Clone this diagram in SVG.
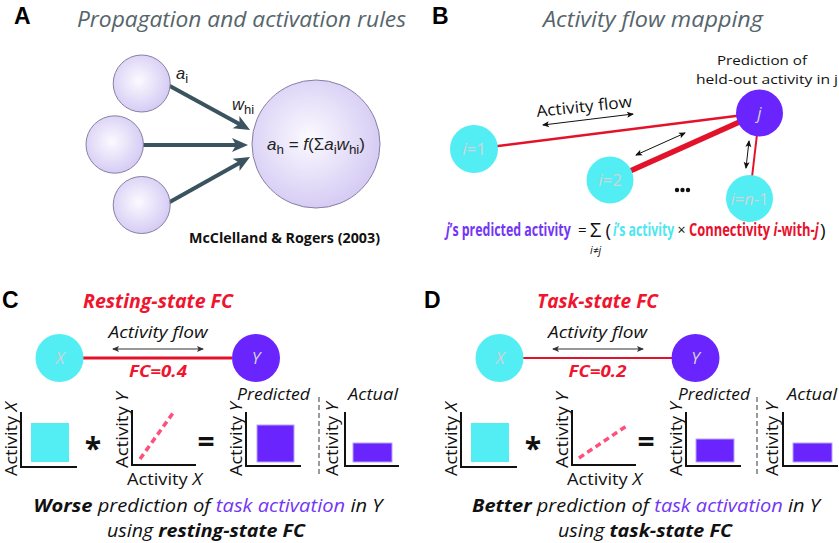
<svg xmlns="http://www.w3.org/2000/svg" width="839" height="543" viewBox="0 0 839 543">
<defs>
<radialGradient id="lav" cx="0.45" cy="0.45" r="0.6">
<stop offset="0" stop-color="#fbfaff"/>
<stop offset="1" stop-color="#d3c8f3"/>
</radialGradient>
<marker id="ah" markerUnits="userSpaceOnUse" markerWidth="20" markerHeight="16" refX="10" refY="7" orient="auto" overflow="visible">
<path d="M0,0 L16,7 L0,14 L4,7 z" fill="#3b535e"/>
</marker>
<marker id="sa" markerUnits="userSpaceOnUse" markerWidth="8" markerHeight="7" refX="6" refY="3" orient="auto-start-reverse" overflow="visible">
<path d="M0,0 L7,3 L0,6 L1.5,3 z" fill="#111"/>
</marker>
<marker id="sg" markerUnits="userSpaceOnUse" markerWidth="8" markerHeight="7" refX="6" refY="3" orient="auto-start-reverse" overflow="visible">
<path d="M0,0 L7,3 L0,6 L1.5,3 z" fill="#333"/>
</marker>
<style>
text{font-family:"Open Sans","Noto Sans",sans-serif}
.lbl{font-family:"Liberation Sans",Arial,sans-serif;font-weight:bold;font-size:23px;fill:#000}
.ttl{font-style:italic;font-size:22.5px;fill:#56656b}
.math{font-family:"Liberation Sans",Arial,sans-serif;font-size:16.5px;fill:#222}
.it{font-style:italic}
.acir{fill:url(#lav);stroke:#877fa3;stroke-width:1}
.aarr{stroke:#3b535e;stroke-width:4;fill:none;marker-end:url(#ah)}
.cyan{fill:#52eef4}
.purp{fill:#6a24fe}
.red{stroke:#e3122b;fill:none}
.dbl{stroke:#111;stroke-width:1;marker-start:url(#sa);marker-end:url(#sa)}
.dblg{stroke:#333;stroke-width:1.2;marker-start:url(#sg);marker-end:url(#sg)}
.nlab{font-size:17px;fill:#cfd4d6;text-anchor:middle}
.axis{stroke:#111;stroke-width:2;fill:none}
.ax{font-size:17px;fill:#111}
.pdash{stroke:#ff4f7d;stroke-width:3.5;stroke-dasharray:6 4;fill:none}
.bcyan{fill:#52eef4}
.bpurp{fill:#6a24fe;stroke:#b7a3ff;stroke-width:1}
.div{stroke:#666;stroke-width:1.3;stroke-dasharray:5 3}
.ctitle{font-weight:bold;font-style:italic;font-size:19.5px;fill:#f0152f;text-anchor:middle}
.flow{font-style:italic;font-size:16.5px;fill:#111;text-anchor:middle}
.fc{font-weight:bold;font-style:italic;font-size:16.5px;fill:#f0152f;text-anchor:middle}
.cap{font-style:italic;font-size:16.5px;fill:#111}
.bot{font-style:italic;font-size:18.5px;fill:#111;text-anchor:middle}
.pt{fill:#7336f5}
.op{font-weight:bold;fill:#111}
.eq{font-size:17px;font-weight:bold}
.sym{fill:#111}
</style>
</defs>

<!-- Panel A -->
<text class="lbl" x="14" y="24">A</text>
<text class="ttl" x="77" y="27" textLength="329" lengthAdjust="spacingAndGlyphs">Propagation and activation rules</text>
<g id="a-connectors">
<line class="aarr" x1="168" y1="85" x2="244.8" y2="127"/>
<line class="aarr" x1="143" y1="145" x2="242" y2="145"/>
<line class="aarr" x1="168" y1="203" x2="244.8" y2="160"/>
</g>
<g id="a-in1"><circle class="acir" cx="141.7" cy="83.5" r="28.5"/></g>
<g id="a-in2"><circle class="acir" cx="114.7" cy="144.5" r="28.7"/></g>
<g id="a-in3"><circle class="acir" cx="141.7" cy="205" r="28.5"/></g>
<g id="a-out"><circle class="acir" cx="316" cy="144" r="64"/>
<text class="math" x="267" y="150" textLength="98" lengthAdjust="spacingAndGlyphs"><tspan class="it">a</tspan><tspan font-size="13" dy="4">h</tspan><tspan dy="-4"> = </tspan><tspan class="it">f</tspan><tspan>(Σ</tspan><tspan class="it">a</tspan><tspan font-size="13" dy="4">i</tspan><tspan class="it" dy="-4">w</tspan><tspan font-size="13" dy="4">hi</tspan><tspan dy="-4">)</tspan></text>
</g>
<text class="math" x="176" y="79"><tspan class="it">a</tspan><tspan font-size="13" dy="4">i</tspan></text>
<text class="math" x="232" y="110"><tspan class="it">w</tspan><tspan font-size="13" dy="4">hi</tspan></text>
<text x="189" y="243" font-size="14.5" font-weight="bold" fill="#111" textLength="191" lengthAdjust="spacingAndGlyphs">McClelland &amp; Rogers (2003)</text>

<!-- Panel B -->
<text class="lbl" x="432" y="24">B</text>
<text class="ttl" x="543" y="27" textLength="220" lengthAdjust="spacingAndGlyphs">Activity flow mapping</text>
<text x="762" y="65" font-size="13.5" fill="#111" text-anchor="middle" textLength="90" lengthAdjust="spacingAndGlyphs">Prediction of</text>
<text x="767" y="84" font-size="13.5" fill="#111" text-anchor="middle" textLength="142" lengthAdjust="spacingAndGlyphs">held-out activity in j</text>
<g id="b-connectors">
<line class="red" x1="474" y1="149" x2="759.5" y2="113" stroke-width="2.6"/>
<line class="red" x1="610" y1="180" x2="759.5" y2="113" stroke-width="5.5"/>
<line class="red" x1="759.5" y1="113" x2="749.5" y2="198.5" stroke-width="2"/>
<line class="dbl" x1="543" y1="125" x2="633" y2="114"/>
<line class="dbl" x1="636" y1="155" x2="685" y2="133"/>
<line class="dbl" x1="749" y1="141" x2="746" y2="168"/>
</g>
<text transform="translate(537,117) rotate(-6)" font-size="16" fill="#111" textLength="96" lengthAdjust="spacingAndGlyphs">Activity flow</text>
<g id="b-i1"><circle class="cyan" cx="474" cy="149" r="24"/><text class="nlab" x="474" y="155"><tspan class="it">i</tspan>=1</text></g>
<g id="b-i2"><circle class="cyan" cx="610" cy="180" r="23.5"/><text class="nlab" x="610" y="186"><tspan class="it">i</tspan>=2</text></g>
<g id="b-in1"><circle class="cyan" cx="749.5" cy="198.5" r="23.5"/><text class="nlab" x="749.5" y="204.5" textLength="38" lengthAdjust="spacingAndGlyphs"><tspan class="it">i</tspan>=<tspan class="it">n</tspan>-1</text></g>
<g id="b-j"><circle class="purp" cx="759.5" cy="113" r="23.5"/><text class="nlab it" x="759.5" y="119">j</text></g>
<g id="b-dots" fill="#111"><circle cx="677" cy="190" r="2.2"/><circle cx="682.5" cy="190" r="2.2"/><circle cx="688" cy="190" r="2.2"/></g>
<g id="b-eq">
<text class="eq" transform="translate(446,236) scale(0.73,1)" fill="#7336f5"><tspan class="it">j</tspan>’s predicted activity</text>
<text class="sym" x="578" y="235" font-size="15">=</text>
<text class="sym" x="590" y="237" font-size="20">Σ</text>
<text class="sym" x="590" y="254" font-size="10.5" font-style="italic">i≠j</text>
<text class="sym" x="605.5" y="237" font-size="19">(</text>
<text class="eq" transform="translate(613,236) scale(0.72,1)" fill="#4fe6f0"><tspan class="it">i</tspan>’s activity</text>
<text class="sym" x="677.5" y="235" font-size="14">×</text>
<text class="eq" transform="translate(689,236) scale(0.76,1)" fill="#e8102c">Connectivity <tspan class="it">i</tspan>-with-<tspan class="it">j</tspan></text>
<text class="sym" x="820" y="237" font-size="19">)</text>
</g>

<!-- Panel C -->
<text class="lbl" x="2" y="308">C</text>
<g id="panel-c">
<text class="ctitle" x="158" y="308" textLength="150" lengthAdjust="spacingAndGlyphs">Resting-state FC</text>
<text class="flow" x="158" y="338" textLength="99" lengthAdjust="spacingAndGlyphs">Activity flow</text>
<g id="c-connectors">
<line class="dblg" x1="113" y1="349" x2="203" y2="349"/>
<line class="red" x1="83" y1="358" x2="232" y2="358" stroke-width="3"/>
</g>
<g id="c-x"><circle class="cyan" cx="59.5" cy="358" r="24"/><text class="nlab it" x="60" y="364" font-size="18">X</text></g>
<g id="c-y"><circle class="purp" cx="256" cy="358" r="24"/><text class="nlab it" x="256" y="364" font-size="18">Y</text></g>
<text class="fc" x="158" y="377" textLength="58" lengthAdjust="spacingAndGlyphs">FC=0.4</text>
<g id="c-charts">
<path class="axis" d="M21,412 V467 H77"/>
<rect class="bcyan" x="31" y="423" width="38" height="39"/>
<text class="ax" transform="translate(17,476) rotate(-90)" textLength="74" lengthAdjust="spacingAndGlyphs">Activity <tspan class="it">X</tspan></text>
<text class="op" x="93" y="459" font-size="30" text-anchor="middle">*</text>
<path class="axis" d="M132,410 V465 H196"/>
<line class="pdash" x1="140" y1="459" x2="173" y2="413"/>
<text class="ax" transform="translate(128,468) rotate(-90)" textLength="76" lengthAdjust="spacingAndGlyphs">Activity <tspan class="it">Y</tspan></text>
<text class="ax" x="127" y="485" textLength="75" lengthAdjust="spacingAndGlyphs">Activity <tspan class="it">X</tspan></text>
<text class="op" x="206" y="452" font-size="30" text-anchor="middle">=</text>
<path class="axis" d="M246,412 V466 H301"/>
<rect class="bpurp" x="257" y="425" width="37" height="37"/>
<text class="ax" transform="translate(242,476) rotate(-90)" textLength="74" lengthAdjust="spacingAndGlyphs">Activity <tspan class="it">Y</tspan></text>
<text class="cap" x="237" y="400" textLength="73" lengthAdjust="spacingAndGlyphs">Predicted</text>
<line class="div" x1="319" y1="397" x2="319" y2="475"/>
<path class="axis" d="M345,412 V466 H399"/>
<rect class="bpurp" x="353" y="443" width="39" height="19"/>
<text class="ax" transform="translate(338,476) rotate(-90)" textLength="74" lengthAdjust="spacingAndGlyphs">Activity <tspan class="it">Y</tspan></text>
<text class="cap" x="348" y="400" textLength="50" lengthAdjust="spacingAndGlyphs">Actual</text>
</g>
<text class="bot" x="208" y="512" textLength="349" lengthAdjust="spacingAndGlyphs"><tspan font-weight="bold">Worse</tspan> prediction of <tspan class="pt">task activation</tspan> in Y</text>
<text class="bot" x="206" y="537" textLength="198" lengthAdjust="spacingAndGlyphs">using <tspan font-weight="bold">resting-state FC</tspan></text>
</g>

<!-- Panel D -->
<text class="lbl" x="424" y="308">D</text>
<g id="panel-d" transform="translate(440,0)">
<text class="ctitle" x="157.5" y="308" textLength="121" lengthAdjust="spacingAndGlyphs">Task-state FC</text>
<text class="flow" x="157.5" y="338" textLength="99" lengthAdjust="spacingAndGlyphs">Activity flow</text>
<g id="d-connectors">
<line class="dblg" x1="113" y1="349" x2="203" y2="349"/>
<line class="red" x1="83" y1="358" x2="232" y2="358" stroke-width="1.8"/>
</g>
<g id="d-x"><circle class="cyan" cx="59.5" cy="358" r="24"/><text class="nlab it" x="60" y="364" font-size="18">X</text></g>
<g id="d-y"><circle class="purp" cx="255.5" cy="358" r="24"/><text class="nlab it" x="255.5" y="364" font-size="18">Y</text></g>
<text class="fc" x="157.5" y="377" textLength="58" lengthAdjust="spacingAndGlyphs">FC=0.2</text>
<g id="d-charts">
<path class="axis" d="M21,412 V467 H77"/>
<rect class="bcyan" x="31" y="423" width="38" height="39"/>
<text class="ax" transform="translate(17,476) rotate(-90)" textLength="74" lengthAdjust="spacingAndGlyphs">Activity <tspan class="it">X</tspan></text>
<text class="op" x="93" y="459" font-size="30" text-anchor="middle">*</text>
<path class="axis" d="M132,410 V465 H196"/>
<line class="pdash" x1="139" y1="458" x2="188" y2="425"/>
<text class="ax" transform="translate(128,468) rotate(-90)" textLength="76" lengthAdjust="spacingAndGlyphs">Activity <tspan class="it">Y</tspan></text>
<text class="ax" x="127" y="485" textLength="75" lengthAdjust="spacingAndGlyphs">Activity <tspan class="it">X</tspan></text>
<text class="op" x="206" y="452" font-size="30" text-anchor="middle">=</text>
<path class="axis" d="M246,412 V466 H301"/>
<rect class="bpurp" x="256" y="439" width="38" height="23"/>
<text class="ax" transform="translate(242,476) rotate(-90)" textLength="74" lengthAdjust="spacingAndGlyphs">Activity <tspan class="it">Y</tspan></text>
<text class="cap" x="238" y="400" textLength="72" lengthAdjust="spacingAndGlyphs">Predicted</text>
<line class="div" x1="317" y1="397" x2="317" y2="475"/>
<path class="axis" d="M343,412 V466 H398"/>
<rect class="bpurp" x="353" y="443" width="39" height="19"/>
<text class="ax" transform="translate(338,476) rotate(-90)" textLength="74" lengthAdjust="spacingAndGlyphs">Activity <tspan class="it">Y</tspan></text>
<text class="cap" x="347" y="400" textLength="50" lengthAdjust="spacingAndGlyphs">Actual</text>
</g>
<text class="bot" x="206" y="512" textLength="348" lengthAdjust="spacingAndGlyphs"><tspan font-weight="bold">Better</tspan> prediction of <tspan class="pt">task activation</tspan> in Y</text>
<text class="bot" x="205" y="537" textLength="174" lengthAdjust="spacingAndGlyphs">using <tspan font-weight="bold">task-state FC</tspan></text>
</g>
</svg>
